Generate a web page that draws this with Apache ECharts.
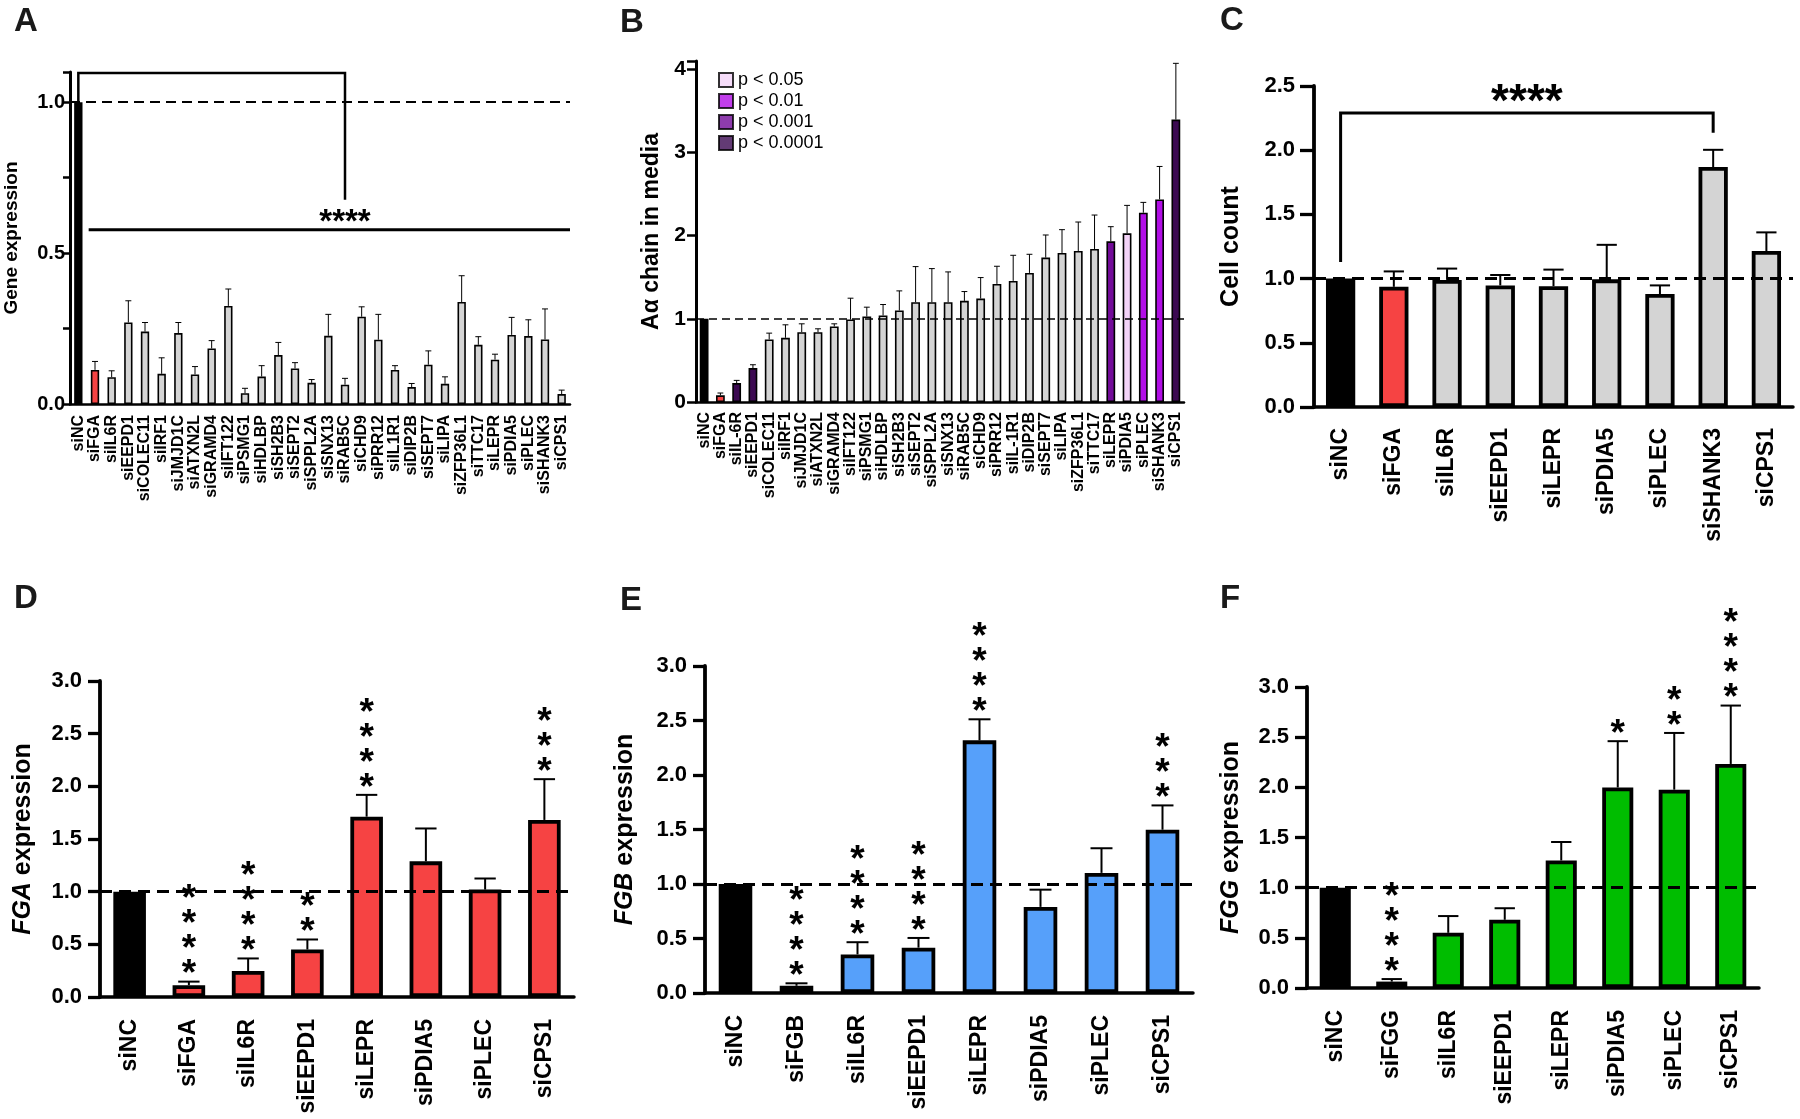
<!DOCTYPE html>
<html>
<head>
<meta charset="utf-8">
<script src="https://cdn.jsdelivr.net/npm/echarts@6/dist/echarts.min.js"></script>
<style>
  html, body { margin: 0; padding: 0; background: #fff; }
  #main { width: 1800px; height: 1119px; }
</style>
</head>
<body>
<div id="main"></div>
<script>
(function () {
    var FONT = 'Liberation Sans';

    // panel A - gene expression after knockdown
    var catA = ['siNC', 'siFGA', 'siIL6R', 'siEEPD1', 'siCOLEC11', 'siIRF1', 'siJMJD1C', 'siATXN2L', 'siGRAMD4', 'siIFT122',
        'siPSMG1', 'siHDLBP', 'siSH2B3', 'siSEPT2', 'siSPPL2A', 'siSNX13', 'siRAB5C', 'siCHD9', 'siPRR12', 'siIL1R1',
        'siDIP2B', 'siSEPT7', 'siLIPA', 'siZFP36L1', 'siTTC17', 'siLEPR', 'siPDIA5', 'siPLEC', 'siSHANK3', 'siCPS1'];
    var valA = [1.0, 0.113, 0.089, 0.270, 0.240, 0.100, 0.235, 0.098, 0.184, 0.325,
        0.036, 0.091, 0.162, 0.118, 0.070, 0.226, 0.064, 0.289, 0.213, 0.113,
        0.056, 0.130, 0.067, 0.338, 0.196, 0.147, 0.229, 0.225, 0.214, 0.033];
    var upA = [1.0, 0.141, 0.110, 0.342, 0.270, 0.153, 0.270, 0.124, 0.210, 0.381,
        0.052, 0.127, 0.204, 0.137, 0.081, 0.297, 0.085, 0.322, 0.297, 0.127,
        0.068, 0.176, 0.090, 0.425, 0.223, 0.165, 0.287, 0.279, 0.315, 0.046];
    // bracket: siNC -> siRAB5C, plus line over all knockdowns
    var bracketA = [['siNC', 1.0], ['siNC', 1.097], ['siRAB5C', 1.097], ['siRAB5C', 0.677]];
    var lineA = 0.577, starsAtA = ['siRAB5C', 0.625];

    // panel B - A alpha chain in media
    var catB = ['siNC', 'siFGA', 'siIL-6R', 'siEEPD1', 'siCOLEC11', 'siIRF1', 'siJMJD1C', 'siATXN2L', 'siGRAMD4', 'siIFT122',
        'siPSMG1', 'siHDLBP', 'siSH2B3', 'siSEPT2', 'siSPPL2A', 'siSNX13', 'siRAB5C', 'siCHD9', 'siPRR12', 'siIL-1R1',
        'siDIP2B', 'siSEPT7', 'siLIPA', 'siZFP36L1', 'siTTC17', 'siLEPR', 'siPDIA5', 'siPLEC', 'siSHANK3', 'siCPS1'];
    var valB = [1.0, 0.08, 0.228, 0.408, 0.752, 0.772, 0.84, 0.84, 0.908, 0.992,
        1.028, 1.04, 1.10, 1.20, 1.20, 1.20, 1.216, 1.244, 1.42, 1.456,
        1.552, 1.736, 1.792, 1.816, 1.84, 1.932, 2.028, 2.276, 2.436, 3.396];
    var upB = [1.0, 0.108, 0.26, 0.448, 0.828, 0.928, 0.94, 0.88, 0.94, 1.248,
        1.14, 1.172, 1.336, 1.628, 1.604, 1.564, 1.328, 1.496, 1.632, 1.764,
        1.776, 2.008, 2.072, 2.164, 2.248, 2.108, 2.364, 2.40, 2.832, 4.072];
    // significance level: 0 none, 1 p<0.05, 2 p<0.01, 3 p<0.001, 4 p<0.0001
    var pB = [0, 0, 4, 4, 0, 0, 0, 0, 0, 0, 0, 0, 0, 0, 0, 0, 0, 0, 0, 0, 0, 0, 0, 0, 0, 3, 1, 2, 2, 4];
    var pLabels = ['p < 0.05', 'p < 0.01', 'p < 0.001', 'p < 0.0001'];

    // panel C - cell count
    var catC = ['siNC', 'siFGA', 'siIL6R', 'siEEPD1', 'siLEPR', 'siPDIA5', 'siPLEC', 'siSHANK3', 'siCPS1'];
    var valC = [1.0, 0.936, 0.99, 0.947, 0.941, 0.994, 0.88, 1.869, 1.215];
    var upC = [1.0, 1.056, 1.078, 1.028, 1.07, 1.263, 0.947, 2.003, 1.36];
    var bracketC = [['siNC', 1.13], ['siNC', 2.29], ['siSHANK3', 2.29], ['siSHANK3', 2.135]];
    var starsYC = 2.45;

    // panels D-F - FGA / FGB / FGG expression
    var catD = ['siNC', 'siFGA', 'siIL6R', 'siEEPD1', 'siLEPR', 'siPDIA5', 'siPLEC', 'siCPS1'];
    var valD = [1.0, 0.112, 0.247, 0.451, 1.712, 1.288, 1.02, 1.681];
    var upD = [1.0, 0.146, 0.366, 0.546, 1.919, 1.60, 1.125, 2.068];
    var starsD = [0, 4, 4, 2, 4, 0, 0, 3];

    var catE = ['siNC', 'siFGB', 'siIL6R', 'siEEPD1', 'siLEPR', 'siPDIA5', 'siPLEC', 'siCPS1'];
    var valE = [1.0, 0.066, 0.354, 0.416, 2.318, 0.79, 1.102, 1.498];
    var upE = [1.0, 0.089, 0.466, 0.505, 2.511, 0.948, 1.328, 1.721];
    var starsE = [0, 4, 4, 4, 4, 0, 0, 3];

    var catF = ['siNC', 'siFGG', 'siIL6R', 'siEEPD1', 'siLEPR', 'siPDIA5', 'siPLEC', 'siCPS1'];
    var valF = [1.0, 0.064, 0.55, 0.68, 1.271, 1.999, 1.977, 2.233];
    var upF = [1.0, 0.089, 0.717, 0.795, 1.455, 2.46, 2.542, 2.815];
    var starsF = [0, 4, 0, 0, 0, 1, 2, 4];

    var RED = '#f64343', GREY = '#d4d4d4', BLUE = '#56a0fa', GREEN = '#00bd00';
    var pColors = ['#f3d3f7', '#b20ee6', '#720b98', '#3c0a52'];

    var chart = echarts.init(document.getElementById('main'));

    function barData(vals, colorOf) {
        return vals.map(function (v, i) {
            return {value: v, itemStyle: {color: colorOf(i)}};
        });
    }

    function errSeries(idx, cats, vals, ups, capRatio, lw) {
        return {
            type: 'custom', xAxisIndex: idx, yAxisIndex: idx, z: 3, silent: true,
            data: cats.map(function (c, i) { return [c, vals[i], ups[i]]; }),
            renderItem: function (params, api) {
                if (api.value(2) <= api.value(1)) return null;
                var lo = api.coord([api.value(0), api.value(1)]);
                var hi = api.coord([api.value(0), api.value(2)]);
                var w = api.size([1, 0])[0] * capRatio / 2;
                return {
                    type: 'group', children: [
                        {type: 'line', shape: {x1: lo[0], y1: lo[1], x2: hi[0], y2: hi[1]}, style: {stroke: '#000', lineWidth: lw}},
                        {type: 'line', shape: {x1: hi[0] - w, y1: hi[1], x2: hi[0] + w, y2: hi[1]}, style: {stroke: '#000', lineWidth: lw}}
                    ]
                };
            }
        };
    }

    function starSeries(idx, cats, ups, stars) {
        return {
            type: 'custom', xAxisIndex: idx, yAxisIndex: idx, z: 4, silent: true,
            data: cats.map(function (c, i) { return [c, ups[i], stars[i]]; }),
            renderItem: function (params, api) {
                var n = api.value(2);
                if (!n) return null;
                var p = api.coord([api.value(0), api.value(1)]);
                var s = [];
                for (var k = 0; k < n; k++) s.push('*');
                return {
                    type: 'text', x: p[0], y: p[1] + 6,
                    style: {text: s.join('\n'), fontSize: 37, fontWeight: 'bold', fontFamily: FONT, lineHeight: 25,
                        align: 'center', verticalAlign: 'bottom', fill: '#000'}
                };
            }
        };
    }

    function bracketSeries(idx, pts, lw) {
        return {
            type: 'custom', xAxisIndex: idx, yAxisIndex: idx, z: 5, silent: true,
            data: [0],
            renderItem: function (params, api) {
                var points = pts.map(function (p) { return api.coord(p); });
                return {type: 'polyline', shape: {points: points}, style: {stroke: '#000', lineWidth: lw, fill: null}};
            }
        };
    }

    function dashLine(lw, dash) {
        return {
            silent: true, symbol: ['none', 'none'], label: {show: false},
            lineStyle: {color: '#000', type: dash, width: lw},
            data: [{yAxis: 1}]
        };
    }

    var grids = [
        {left: 70, top: 72, width: 500, height: 332},
        {left: 696, top: 61, width: 488, height: 341},
        {left: 1314, top: 86, width: 479, height: 321},
        {left: 100, top: 681, width: 474, height: 316},
        {left: 705, top: 666, width: 488, height: 327},
        {left: 1307, top: 687, width: 452, height: 301}
    ];

    function xAxis(idx, cats, fs, lw, tickLen, margin) {
        return {
            type: 'category', gridIndex: idx, data: cats,
            axisLine: {lineStyle: {color: '#000', width: lw}},
            axisTick: {alignWithLabel: true, length: tickLen, lineStyle: {color: '#000', width: lw - 0.5}},
            axisLabel: {rotate: 90, interval: 0, color: '#000', fontWeight: 'bold', fontSize: fs, fontFamily: FONT, margin: margin}
        };
    }

    function yAxis(idx, max, interval, fs, name, nfs, gap, lw, tickLen, margin, fmt) {
        return {
            type: 'value', gridIndex: idx, min: 0, max: max, interval: interval,
            name: name, nameLocation: 'middle', nameRotate: 90, nameGap: gap,
            nameTextStyle: {color: '#000', fontWeight: 'bold', fontSize: nfs, fontFamily: FONT,
                rich: {i: {fontStyle: 'italic', fontWeight: 'bold', fontSize: nfs, fontFamily: FONT, color: '#000'}}},
            splitLine: {show: false},
            axisLine: {show: true, lineStyle: {color: '#000', width: lw}},
            axisTick: {show: true, length: tickLen, lineStyle: {color: '#000', width: lw - 0.5}},
            axisLabel: {color: '#000', fontWeight: 'bold', fontSize: fs, fontFamily: FONT, margin: margin, formatter: fmt}
        };
    }

    var fmtA = function (v) { return (v === 0 || v === 0.5 || v === 1) ? v.toFixed(1) : ''; };
    var fmtB = function (v) { return v % 1 === 0 ? String(v) : ''; };
    var fmt1 = function (v) { return v.toFixed(1); };

    var series = [
        // A
        {type: 'bar', xAxisIndex: 0, yAxisIndex: 0, barCategoryGap: '50%',
            itemStyle: {borderColor: '#000', borderWidth: 1.6},
            data: barData(valA, function (i) { return i === 0 ? '#000' : (i === 1 ? RED : GREY); }),
            markLine: dashLine(2, [10, 6])},
        errSeries(0, catA, valA, upA, 0.36, 1),
        bracketSeries(0, bracketA, 2.5),
        {
            type: 'custom', xAxisIndex: 0, yAxisIndex: 0, z: 5, silent: true, data: [0],
            renderItem: function (params, api) {
                var band = api.size([1, 0])[0];
                var a = api.coord([catA[1], lineA]);
                var b = api.coord([catA[catA.length - 1], lineA]);
                var s = api.coord(starsAtA);
                return {
                    type: 'group', children: [
                        {type: 'line', shape: {x1: a[0] - band * 0.38, y1: a[1], x2: b[0] + band * 0.5, y2: b[1]}, style: {stroke: '#000', lineWidth: 3}},
                        {type: 'text', x: s[0], y: s[1] + 8, style: {text: '****', fontSize: 33, fontWeight: 'bold', fontFamily: FONT, align: 'center', verticalAlign: 'middle', fill: '#000'}}
                    ]
                };
            }
        },
        // B
        {type: 'bar', xAxisIndex: 1, yAxisIndex: 1, barCategoryGap: '46%',
            itemStyle: {borderColor: '#000', borderWidth: 1.6},
            data: barData(valB, function (i) {
                if (i === 0) return '#000';
                if (i === 1) return RED;
                return pB[i] ? pColors[pB[i] - 1] : GREY;
            }),
            markLine: dashLine(1.6, [8, 5])},
        errSeries(1, catB, valB, upB, 0.36, 1),
        // C
        {type: 'bar', xAxisIndex: 2, yAxisIndex: 2, barCategoryGap: '45%',
            itemStyle: {borderColor: '#000', borderWidth: 3.8},
            data: barData(valC, function (i) { return i === 0 ? '#000' : (i === 1 ? RED : GREY); }),
            markLine: dashLine(3, [12, 7])},
        errSeries(2, catC, valC, upC, 0.38, 2),
        bracketSeries(2, bracketC, 3),
        {
            type: 'custom', xAxisIndex: 2, yAxisIndex: 2, z: 5, silent: true, data: [0],
            renderItem: function (params, api) {
                var a = api.coord([bracketC[0][0], starsYC]);
                var b = api.coord([bracketC[2][0], starsYC]);
                return {type: 'text', x: (a[0] + b[0]) / 2, y: a[1] + 11,
                    style: {text: '****', fontSize: 46, fontWeight: 'bold', fontFamily: FONT, align: 'center', verticalAlign: 'middle', fill: '#000'}};
            }
        },
        // D
        {type: 'bar', xAxisIndex: 3, yAxisIndex: 3, barCategoryGap: '45%',
            itemStyle: {borderColor: '#000', borderWidth: 3.8},
            data: barData(valD, function (i) { return i === 0 ? '#000' : RED; }),
            markLine: dashLine(3, [12, 7])},
        errSeries(3, catD, valD, upD, 0.36, 2),
        starSeries(3, catD, upD, starsD),
        // E
        {type: 'bar', xAxisIndex: 4, yAxisIndex: 4, barCategoryGap: '45%',
            itemStyle: {borderColor: '#000', borderWidth: 3.8},
            data: barData(valE, function (i) { return i === 0 ? '#000' : BLUE; }),
            markLine: dashLine(3, [12, 7])},
        errSeries(4, catE, valE, upE, 0.36, 2),
        starSeries(4, catE, upE, starsE),
        // F
        {type: 'bar', xAxisIndex: 5, yAxisIndex: 5, barCategoryGap: '45%',
            itemStyle: {borderColor: '#000', borderWidth: 3.8},
            data: barData(valF, function (i) { return i === 0 ? '#000' : GREEN; }),
            markLine: dashLine(3, [12, 7])},
        errSeries(5, catF, valF, upF, 0.36, 2),
        starSeries(5, catF, upF, starsF)
    ];

    // legend entries for panel B
    pLabels.forEach(function (lab, k) {
        series.push({type: 'scatter', name: lab, xAxisIndex: 1, yAxisIndex: 1, data: [], itemStyle: {color: pColors[k]}});
    });

    function letter(t, x, y) {
        return {type: 'text', left: x, top: y, style: {text: t, fontSize: 33, fontWeight: 'bold', fontFamily: FONT, fill: '#1a1a1a'}};
    }

    chart.setOption({
        animation: false,
        backgroundColor: '#fff',
        textStyle: {fontFamily: FONT},
        grid: grids,
        legend: {
            data: pLabels, orient: 'vertical', left: 713, top: 66, icon: 'rect',
            itemWidth: 14, itemHeight: 14, itemGap: 3, selectedMode: false,
            itemStyle: {borderColor: '#000', borderWidth: 2},
            textStyle: {fontSize: 18, fontFamily: FONT, color: '#000'}
        },
        xAxis: [
            xAxis(0, catA, 16, 2.5, 9, 11),
            xAxis(1, catB, 16, 2.5, 8, 10),
            xAxis(2, catC, 23, 3.5, 14, 21),
            xAxis(3, catD, 23, 3.5, 13, 22),
            xAxis(4, catE, 23, 3.5, 13, 22),
            xAxis(5, catF, 23, 3.5, 13, 22)
        ],
        yAxis: [
            yAxis(0, 1.1, 0.25, 20, 'Gene expression', 19, 49, 3, 7, 5, fmtA),
            yAxis(1, 4.1, 1, 21, 'A\u03b1 chain in media', 23, 33, 3, 9, 10, fmtB),
            yAxis(2, 2.5, 0.5, 22, 'Cell count', 25, 70, 3.8, 14, 19, fmt1),
            yAxis(3, 3, 0.5, 22, '{i|FGA} expression', 25, 64, 3.8, 12, 18, fmt1),
            yAxis(4, 3, 0.5, 22, '{i|FGB} expression', 25, 67, 3.8, 12, 18, fmt1),
            yAxis(5, 3, 0.5, 22, '{i|FGG} expression', 25, 63, 3.8, 12, 18, fmt1)
        ],
        graphic: [
            letter('A', 14, 5), letter('B', 620, 6), letter('C', 1220, 4),
            letter('D', 14, 582), letter('E', 620, 584), letter('F', 1220, 582)
        ],
        series: series
    });
})();
</script>
</body>
</html>
